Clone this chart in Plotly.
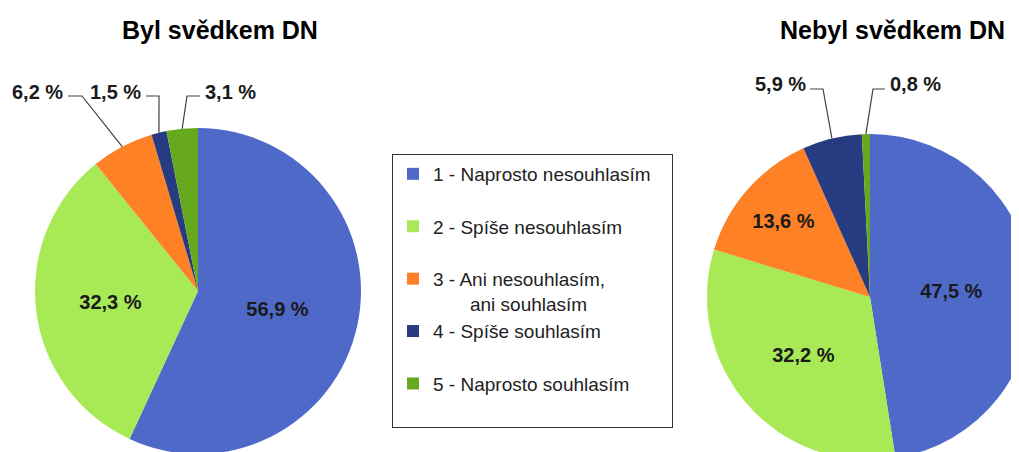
import math
import plotly.graph_objects as go

# figure size (page offset of 8 px from default body margin is compensated)
FW, FH = 1045, 470
OFF = 8

# ---- data ----
categories = [
    "1 - Naprosto nesouhlasím",
    "2 - Spíše nesouhlasím",
    "3 - Ani nesouhlasím,<br>\u00a0\u00a0\u00a0\u00a0\u00a0\u00a0\u00a0ani souhlasím",
    "4 - Spíše souhlasím",
    "5 - Naprosto souhlasím",
]
byl_values = [56.9, 32.3, 6.2, 1.5, 3.1]
nebyl_values = [47.5, 32.2, 13.6, 5.9, 0.8]
colors = ["#4F69C8", "#A8EA55", "#FF8126", "#263B80", "#66A91E"]
titles = ["Byl svědkem DN", "Nebyl svědkem DN"]
byl_inside = [True, True, False, False, False]
nebyl_inside = [True, True, True, False, False]

FONT = "Liberation Sans, Arial, sans-serif"
TXT = "#1a1a1a"


def fmt(v):
    return f"{v:.1f}".replace(".", ",") + " %"


def X(px):
    return (px - OFF) / FW


def Y(py):
    return 1 - (py - OFF) / FH


legend_labels = [c if "<br>" in c else c + "<br>\u00a0" for c in categories]
legend_labels[0] = legend_labels[0].replace("<br>", "\u00a0\u00a0\u00a0<br>")

pies = [
    dict(values=byl_values, inside=byl_inside, x0=35, x1=361, y0=128, y1=454),
    dict(values=nebyl_values, inside=nebyl_inside, x0=707, x1=1033, y0=134, y1=460),
]

fig = go.Figure()
for p in pies:
    vals = p["values"]
    fig.add_trace(go.Pie(
        labels=legend_labels,
        values=vals,
        sort=False,
        direction="clockwise",
        rotation=0,
        marker=dict(colors=colors, line=dict(width=0)),
        text=[fmt(v) if ins else "" for v, ins in zip(vals, p["inside"])],
        textinfo="text",
        textposition=["inside" if ins else "none" for ins in p["inside"]],
        insidetextorientation="horizontal",
        insidetextfont=dict(family=FONT, size=20, color=TXT, weight="bold"),
        hoverinfo="label+percent",
        domain=dict(x=[X(p["x0"]), X(p["x1"])], y=[Y(p["y1"]), Y(p["y0"])]),
        showlegend=True,
    ))
    p["r"] = min(p["x1"] - p["x0"], p["y1"] - p["y0"]) / 2
    p["cx"] = (p["x0"] + p["x1"]) / 2
    p["cy"] = (p["y0"] + p["y1"]) / 2

outside = [
    (0, 2, 65, "right", 68, 82),
    (0, 3, 143, "right", 146, 159),
    (0, 4, 203, "left", 200, 187),
    (1, 3, 808, "right", 810, 823),
    (1, 4, 888, "left", 885, 873),
]
LABEL_Y = [92, 92, 92, 84, 84]
ELBOW_Y = [96, 96, 96, 89, 89]

annotations = []
shapes = []
for k, (pi, si, ax, side, ex1, ex2) in enumerate(outside):
    p = pies[pi]
    vals = p["values"]
    tot = sum(vals)
    mid = (sum(vals[:si]) + vals[si] / 2) / tot * 2 * math.pi
    px = p["cx"] + p["r"] * math.sin(mid)
    py = p["cy"] - p["r"] * math.cos(mid)
    annotations.append(dict(
        x=X(ax), y=Y(LABEL_Y[k]), xref="paper", yref="paper",
        text=fmt(vals[si]), showarrow=False,
        xanchor=side, yanchor="middle",
        font=dict(family=FONT, size=20, color=TXT, weight="bold"),
    ))
    ey = ELBOW_Y[k]
    path = (f"M {X(ex1)},{Y(ey)} L {X(ex2)},{Y(ey)} L {X(px)},{Y(py)}")
    shapes.append(dict(type="path", path=path, xref="paper", yref="paper",
                       line=dict(color="#404040", width=1.2)))

for t, tx in zip(titles, [220, 892]):
    annotations.append(dict(
        x=X(tx), y=Y(30), xref="paper", yref="paper",
        text=t, showarrow=False, xanchor="center", yanchor="middle",
        font=dict(family=FONT, size=25, color="#000000", weight="bold"),
    ))

fig.update_layout(
    width=FW, height=FH,
    margin=dict(l=0, r=0, t=0, b=0),
    paper_bgcolor="white",
    plot_bgcolor="white",
    annotations=annotations,
    shapes=shapes,
    legend=dict(
        x=X(392), y=Y(154), xanchor="left", yanchor="top",
        bgcolor="white", bordercolor="#333333", borderwidth=1,
        font=dict(family=FONT, size=19, color="#222222"),
        valign="top",
        traceorder="normal",
    ),
)

fig.write_html("out.html")
